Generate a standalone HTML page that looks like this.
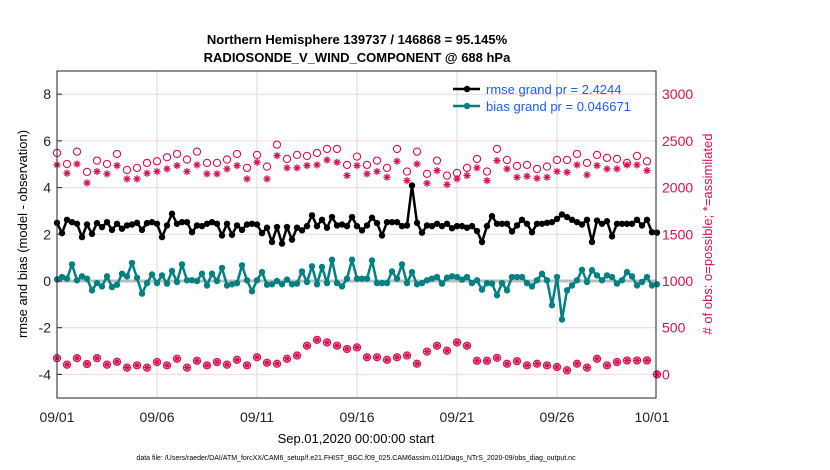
<!DOCTYPE html>
<html><head><meta charset="utf-8"><style>
body{margin:0;background:#fff;}
svg{display:block;font-family:"Liberation Sans",sans-serif;}
</style></head><body>
<svg id="chart" width="830" height="470" viewBox="0 0 830 470" xmlns="http://www.w3.org/2000/svg">
<text x="357" y="44" text-anchor="middle" font-size="13" font-weight="bold">Northern Hemisphere 139737 / 146868 = 95.145%</text>
<text x="357" y="62" text-anchor="middle" font-size="13" font-weight="bold">RADIOSONDE_V_WIND_COMPONENT @ 688 hPa</text>
<g id="grid"></g>
<g id="marks"></g>
<rect x="57" y="71" width="599" height="327" fill="none" stroke="#222" stroke-width="1"/>
<g id="axes"></g>
<text transform="translate(27,234) rotate(-90)" text-anchor="middle" font-size="13">rmse and bias (model - observation)</text>
<text transform="translate(712,234) rotate(-90)" text-anchor="middle" font-size="13" fill="#d6124f">#  of obs: o=possible; *=assimilated</text>
<text x="356" y="443" text-anchor="middle" font-size="13">Sep.01,2020 00:00:00 start</text>
<text x="356" y="460" text-anchor="middle" font-size="7">data file: /Users/raeder/DAI/ATM_forcXX/CAM6_setup/f.e21.FHIST_BGC.f09_025.CAM6assim.011/Diags_NTrS_2020-09/obs_diag_output.nc</text>
<g>
<line x1="453" y1="89" x2="480" y2="89" stroke="#000" stroke-width="2.5"/>
<circle cx="467" cy="89" r="3.2" fill="#000"/>
<text x="486" y="94" font-size="13" fill="#1a5cff">rmse grand pr = 2.4244</text>
<line x1="453" y1="106" x2="480" y2="106" stroke="#008080" stroke-width="2.5"/>
<circle cx="467" cy="106" r="3.2" fill="#008080"/>
<text x="486" y="111" font-size="13" fill="#1a5cff">bias grand pr = 0.046671</text>
</g>
</svg>
<script>
const leftTicks=[-4,-2,0,2,4,6,8];
const rightTicks=[0,500,1000,1500,2000,2500,3000];
const xTickLabels=["09/01","09/06","09/11","09/16","09/21","09/26","10/01"];
const xTickDays=[0,5,10,15,20,25,30];
const rmse=[2.49,2.05,2.62,2.52,2.45,1.88,2.42,2.02,2.48,2.31,2.52,2.19,2.45,2.24,2.38,2.42,2.49,2.19,2.48,2.52,2.45,1.88,2.38,2.88,2.45,2.52,2.52,2.09,2.38,2.35,2.45,2.52,2.45,1.95,2.45,1.98,2.38,2.19,2.42,2.45,2.42,2.05,2.28,1.67,2.31,1.60,2.31,1.77,2.28,2.17,2.35,2.81,2.35,2.62,2.28,2.74,2.38,2.42,2.35,2.74,2.35,2.17,2.38,2.71,2.48,1.95,2.52,2.52,2.52,2.35,2.38,4.09,2.49,2.07,2.38,2.35,2.45,2.35,2.45,2.26,2.35,2.35,2.28,2.35,2.14,1.67,2.35,2.78,2.45,2.45,2.45,2.12,2.38,2.62,2.45,2.09,2.45,2.45,2.49,2.52,2.66,2.85,2.74,2.62,2.52,2.42,2.62,1.67,2.59,2.45,2.56,1.91,2.45,2.45,2.45,2.45,2.62,2.38,2.62,2.09,2.07];
const bias=[0.07,0.17,0.10,0.71,0.03,0.20,0.10,-0.40,-0.09,-0.23,0.20,-0.26,-0.16,0.31,0.20,0.77,0.14,-0.54,-0.09,0.28,-0.09,0.24,-0.11,0.43,-0.04,0.71,0.03,0.03,0,0.31,-0.19,0.31,0,0.56,-0.19,-0.14,-0.09,0.67,0.03,-0.44,0.03,0.38,-0.16,-0.14,0,-0.14,0.06,-0.14,-0.11,0.41,-0.04,0.63,-0.14,0.60,-0.09,0.91,-0.09,-0.23,0.10,0.91,0.10,0.10,0.10,0.88,-0.09,-0.09,-0.09,0.41,0.10,0.71,-0.09,0.38,-0.14,-0.09,0.03,0.10,0.17,-0.11,0.14,0.20,0.17,0.06,0.17,-0.09,0.03,-0.37,-0.09,-0.11,-0.61,-0.09,-0.40,0.17,0.17,0.17,-0.09,-0.23,0.03,0.31,0.03,-1.04,0.17,-1.65,-0.40,-0.19,0.03,0.48,-0.04,0.46,0.24,0.03,0.24,0.17,-0.11,0.03,0.38,0.20,-0.19,-0.04,0.17,-0.19,-0.14];
const obsPossibleTop=[2371,2253,2385,2168,2289,2253,2360,2189,2211,2264,2282,2325,2360,2300,2385,2264,2264,2300,2360,2211,2350,2225,2460,2307,2350,2339,2371,2414,2414,2243,2332,2243,2289,2211,2414,2172,2385,2147,2289,2129,2157,2211,2307,2172,2414,2296,2232,2243,2200,2225,2296,2296,2360,2264,2350,2318,2307,2264,2339,2282];
const obsAssimTop=[2243,2154,2253,2050,2172,2147,2236,2093,2093,2154,2172,2200,2236,2172,2243,2147,2147,2200,2236,2093,2271,2093,2342,2211,2211,2236,2243,2296,2271,2129,2236,2147,2172,2111,2282,2075,2253,2047,2182,2033,2093,2129,2211,2075,2289,2200,2111,2122,2100,2111,2172,2164,2243,2136,2236,2200,2200,2243,2243,2182];
const obsBottom=[174,104,174,111,174,104,135,72,97,72,132,97,167,72,146,97,132,104,156,97,184,125,114,167,202,307,370,342,307,272,289,184,184,156,184,202,114,244,307,254,342,307,146,146,177,114,142,97,114,97,79,44,114,72,167,97,132,149,149,150,0];
const X0=57,PXDAY=20,Y0=281,PXUNIT=23.35;
const NS='http://www.w3.org/2000/svg';
function xDay(d){return X0+d*PXDAY;}
function yL(v){return Y0-v*PXUNIT;}
function yR(c){return yL(c/250-4);}
function mk(tag,attrs,parent){const e=document.createElementNS(NS,tag);for(const k in attrs)e.setAttribute(k,attrs[k]);parent.appendChild(e);return e;}
const grid=document.getElementById('grid'),marks=document.getElementById('marks'),axes=document.getElementById('axes');
const PINK='#d6124f';
leftTicks.forEach(v=>{
  const l=mk('line',{x1:57,x2:656,y1:yL(v),y2:yL(v),stroke:'#f6d3e1','stroke-width':1},grid);
  
  
  const t=mk('text',{x:51,y:yL(v)+5,'text-anchor':'end','font-size':14,fill:'#222'},axes);
  t.textContent=String(v);
  
  
  mk('line',{x1:57,x2:62,y1:yL(v),y2:yL(v),stroke:'#222'},axes);
});
rightTicks.forEach(c=>{
  const t=mk('text',{x:662,y:yR(c)+5,'font-size':14,fill:PINK},axes);
  t.textContent=String(c);
  
  
});
xTickDays.forEach((d,i)=>{
  if(i>0&&i<xTickDays.length-1){
    const g=mk('line',{x1:xDay(d),x2:xDay(d),y1:71,y2:398,stroke:'#d9d9d9'},grid);
    
    
  }
  const tx=i===xTickDays.length-1?652:xDay(d);
  const t=mk('text',{x:tx,y:422,'text-anchor':'middle','font-size':14,fill:'#222'},axes);
  t.textContent=xTickLabels[i];
  
  
});
const zl=mk('line',{x1:57,x2:656,y1:yL(0),y2:yL(0),stroke:'#bbbbbb','stroke-width':3},marks);


function star(cx,cy,parent){
  const g=mk('g',{stroke:PINK,'stroke-width':1.3},parent);
  
  
  const r=3.6;
  for(let a=0;a<4;a++){const th=a*Math.PI/4;mk('line',{x1:cx-r*Math.cos(th),y1:cy-r*Math.sin(th),x2:cx+r*Math.cos(th),y2:cy+r*Math.sin(th)},g);}
}
function circ(cx,cy,parent){
  const c=mk('circle',{cx:cx,cy:cy,r:3.6,fill:'none',stroke:PINK,'stroke-width':1.1},parent);
  
  
}
obsPossibleTop.forEach((c,i)=>circ(xDay(i/2),yR(c),marks));
obsAssimTop.forEach((c,i)=>star(xDay(i/2),yR(c),marks));
obsBottom.forEach((c,i)=>{circ(xDay(i/2),yR(c),marks);star(xDay(i/2),yR(c),marks);});
function series(vals,color,name){
  const pts=vals.map((v,i)=>xDay(i/4)+','+yL(v)).join(' ');
  const p=mk('polyline',{points:pts,fill:'none',stroke:color,'stroke-width':2.5,'stroke-linejoin':'round'},marks);
  
  
  vals.forEach((v,i)=>{
    const c=mk('circle',{cx:xDay(i/4),cy:yL(v),r:3.2,fill:color},marks);
    
    
  });
}
series(bias,'#008080','bias');
series(rmse,'#000000','rmse');
</script>
</body></html>
